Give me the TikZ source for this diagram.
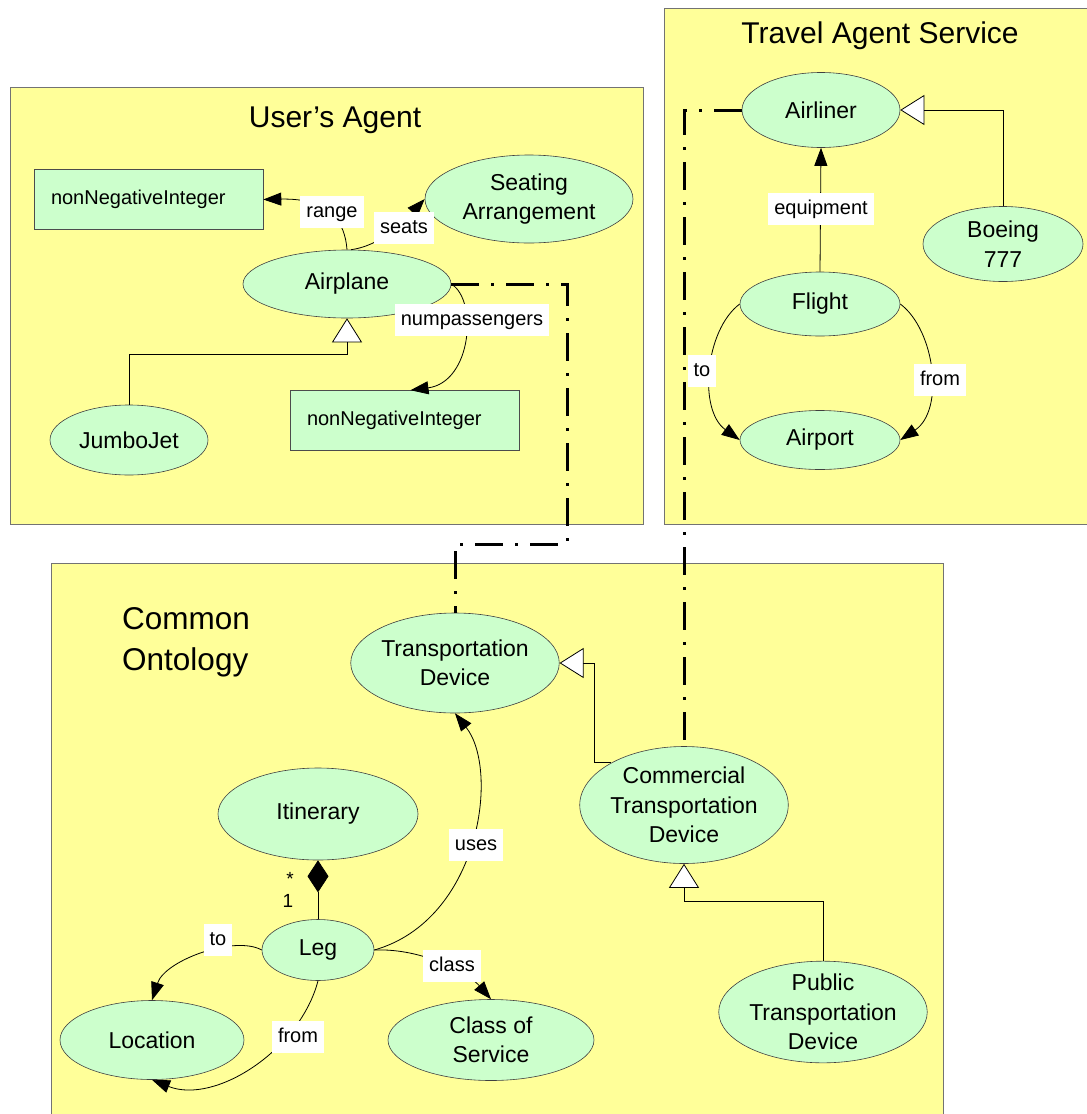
\documentclass[tikz,border=0pt]{standalone}
\usepackage{fontspec}
\setmainfont{Liberation Sans}
\usetikzlibrary{shapes.geometric,arrows.meta,calc}
\definecolor{panel}{HTML}{FFFF99}
\definecolor{clsgreen}{HTML}{CCFFCC}
\begin{document}
\begin{tikzpicture}[x=1pt,y=-1pt,
  panelbox/.style={draw=black!55, fill=panel, line width=0.8pt},
  cls/.style={ellipse, draw=black!75, fill=clsgreen, line width=0.6pt, inner sep=0pt, font=\fontsize{23}{29.5}\selectfont, align=center},
  dtype/.style={rectangle, draw=black!70, fill=clsgreen, line width=0.6pt, inner xsep=17pt, text width=195pt, align=left, minimum height=60pt, font=\fontsize{20}{24}\selectfont},
  lbl/.style={fill=white, inner xsep=6pt, inner ysep=6pt, text height=15pt, text depth=5pt, font=\fontsize{20}{24}\selectfont},
  mult/.style={inner sep=0pt, font=\fontsize{19}{22}\selectfont},
  assoc/.style={line width=0.8pt, -{Triangle[length=18pt,width=13pt]}},
  gen/.style={line width=0.8pt, -{Triangle[length=24pt,width=30pt,fill=white]}},
  comp/.style={line width=0.8pt, -{Diamond[length=32pt,width=21pt]}},
  mapping/.style={line width=3pt, dash pattern=on 28pt off 12pt on 3pt off 12pt},
  title/.style={font=\fontsize{30}{40}\selectfont, inner sep=0pt}
]
\useasboundingbox (0,0) rectangle (1087,1114);
\fill[white] (0,0) rectangle (1087,1114);

% panels
\draw[panelbox] (10,87) rectangle (643,524);
\draw[panelbox] (664,8) rectangle (1100,524);
\draw[panelbox] (51,563) rectangle (943,1130);

% titles
\node[title] (uatitle) at (335,120) {User’s Agent};
\node[title] (tatitle) at (880,36) {Travel Agent Service};
\node[title, font=\fontsize{31.5}{41}\selectfont, anchor=west, align=left] (cotitle) at (122,642) {Common\\Ontology};

% User's Agent
\node[dtype] (nni1) at (148.5,199.5) {nonNegativeInteger};
\node[dtype] (nni2) at (404.5,420.5) {nonNegativeInteger};
\node[cls, minimum width=208pt, minimum height=88pt] (seating) at (529,199) {Seating\\Arrangement};
\node[cls, minimum width=208pt, minimum height=68pt] (airplane) at (347,284) {Airplane};
\node[cls, minimum width=158pt, minimum height=70pt] (jumbo) at (129,440) {JumboJet};

% Travel Agent Service
\node[cls, minimum width=158pt, minimum height=75pt] (airliner) at (821,110) {Airliner};
\node[cls, minimum width=160pt, minimum height=75pt] (boeing) at (1003,244) {Boeing\\777};
\node[cls, minimum width=160pt, minimum height=64pt] (flight) at (820,304) {Flight};
\node[cls, minimum width=160pt, minimum height=59pt] (airport) at (820,440) {Airport};

% Common Ontology
\node[cls, minimum width=208pt, minimum height=100pt] (td) at (455,663) {Transportation\\Device};
\node[cls, minimum width=200pt, minimum height=92pt] (itinerary) at (318,814) {Itinerary};
\node[cls, minimum width=112pt, minimum height=61pt] (leg) at (318,950) {Leg};
\node[cls, minimum width=184pt, minimum height=79pt] (location) at (152,1040) {Location};
\node[cls, minimum width=206pt, minimum height=81pt] (cos) at (491,1040) {Class of\\Service};
\node[cls, minimum width=208pt, minimum height=117pt] (ctd) at (684,805) {Commercial\\Transportation\\Device};
\node[cls, minimum width=208pt, minimum height=100pt, inner ysep=-2pt] (ptd) at (823,1012) {Public\\Transportation\\Device};

% connectors: User's Agent
\draw[assoc] (airplane.north) .. controls (345,222) and (330,198) .. (nni1.east);
\draw[assoc] ([xshift=4pt]airplane.north) .. controls (385,245) and (410,215) .. (seating.west);
\draw[assoc] (airplane.east) .. controls (478,300) and (472,382) .. ([xshift=6pt]nni2.north);
\draw[gen] (jumbo.north) |- ($(airplane.south)+(0,36)$) -- (airplane.south);

% connectors: Travel Agent Service
\draw[gen] (boeing.north) |- (airliner.east);
\draw[assoc] (flight.north) -- (airliner.south);
\draw[assoc] (flight.west) .. controls (705,330) and (698,410) .. (airport.west);
\draw[assoc] (flight.east) .. controls (935,330) and (945,410) .. (airport.east);

% connectors: Common Ontology
\draw[comp] (leg.north) -- (itinerary.south);
\draw[assoc] (leg.west) .. controls (235,935) and (165,960) .. (location.north);
\draw[assoc] (leg.south) .. controls (300,1050) and (215,1105) .. (location.south);
\draw[assoc] (leg.east) .. controls (480,920) and (500,770) .. (td.south);
\draw[assoc] (leg.east) .. controls (425,948) and (470,975) .. (cos.north);
\coordinate (k1) at (594,663);
\draw[gen] (ctd.150) -| (k1) -- (td.east);
\draw[gen] (ptd.north) |- ($(ctd.south)+(0,38)$) -- (ctd.south);

% mappings
\coordinate (m1) at (567,544);
\draw[mapping] (airplane.east) -| (m1) -| (td.north);
\draw[mapping] (airliner.west) -| (ctd.north);

% labels
\node[lbl] (lrange) at (332,212) {range};
\node[lbl] (lseats) at (404,228) {seats};
\node[lbl] (lnum) at (472,320) {numpassengers};
\node[lbl] (lequip) at (821,209) {equipment};
\node[lbl] (lto1) at (702,371) {to};
\node[lbl] (lfrom1) at (940,380) {from};
\node[lbl] (lto2) at (218,940) {to};
\node[lbl] (lfrom2) at (298,1037) {from};
\node[lbl] (luses) at (476,845) {uses};
\node[lbl] (lclass) at (452,966) {class};
\node[mult] (mstar) at (290,879) {*};
\node[mult] (mone) at (288,901) {1};
\end{tikzpicture}
\end{document}
